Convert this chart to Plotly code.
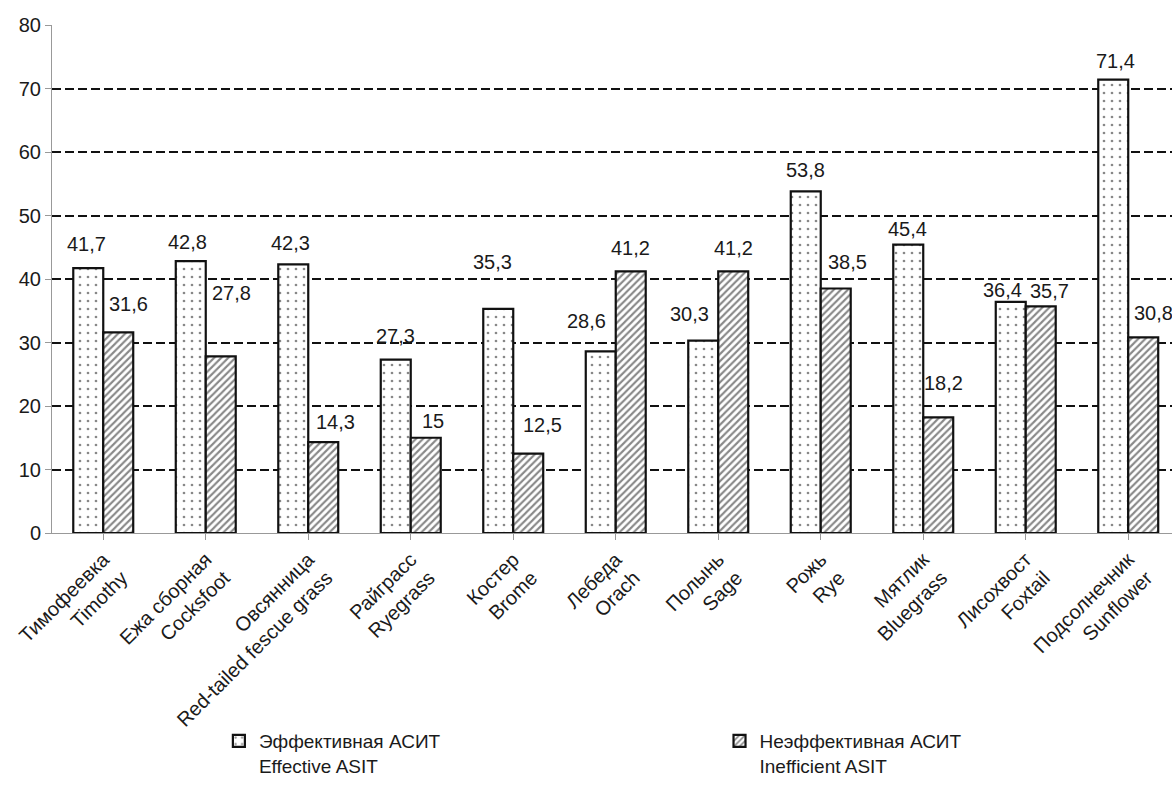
import plotly.graph_objects as go

# Share of patients (%) per allergen, by ASIT outcome
categories = [
    "Тимофеевка<br>Timothy",
    "Ежа сборная<br>Cocksfoot",
    "Овсянница<br>Red-tailed fescue grass",
    "Райграсс<br>Ryegrass",
    "Костер<br>Brome",
    "Лебеда<br>Orach",
    "Полынь<br>Sage",
    "Рожь<br>Rye",
    "Мятлик<br>Bluegrass",
    "Лисохвост<br>Foxtail",
    "Подсолнечник<br>Sunflower",
]
effective = [41.7, 42.8, 42.3, 27.3, 35.3, 28.6, 30.3, 53.8, 45.4, 36.4, 71.4]
inefficient = [31.6, 27.8, 14.3, 15.0, 12.5, 41.2, 41.2, 38.5, 18.2, 35.7, 30.8]
y_ticks = [0, 10, 20, 30, 40, 50, 60, 70, 80]

series_names = ["Эффективная АСИТ<br>Effective ASIT", "Неэффективная АСИТ<br>Inefficient ASIT"]

FONT = "Liberation Sans Narrow, Arial Narrow, Liberation Sans, Arial, sans-serif"
TEXT = "#1a1a1a"
INK = "#111111"

# label placement tweaks (pixels): shift right, shift up from bar top
eff_label_dx = [-2, -3, -3, 0, -6, -14, -14, 0, -1, -8, 2]
eff_label_dy = [24, 19, 21, 24, 47, 30, 27, 21, 16, 12, 19]
ineff_label_dx = [10, 11, 12, 7, 14, 0, 0, 12, 5, 9, 10]
ineff_label_dy = [28, 63, 20, 17, 29, 23, 23, 27, 34, 15, 24]


def fmt(v):
    s = ("%.1f" % v).rstrip("0").rstrip(".")
    return s.replace(".", ",")


x_idx = list(range(len(categories)))

fig = go.Figure()
fig.add_trace(go.Bar(
    x=x_idx, y=effective, name=series_names[0], legend="legend",
    marker=dict(color="white", line=dict(color=INK, width=2.2),
                pattern=dict(shape=".", fgcolor=INK, bgcolor="white",
                             size=8, solidity=0.09)),
))
fig.add_trace(go.Bar(
    x=x_idx, y=inefficient, name=series_names[1], legend="legend2",
    marker=dict(color="white", line=dict(color=INK, width=2.2),
                pattern=dict(shape="/", fgcolor=INK, bgcolor="white",
                             size=5, solidity=0.42)),
))

annotations = []
half_bar = 15
for i in x_idx:
    annotations.append(dict(
        x=i, y=effective[i], xref="x", yref="y", text=fmt(effective[i]),
        showarrow=False, xshift=-half_bar + eff_label_dx[i], yshift=eff_label_dy[i],
        xanchor="center", yanchor="middle",
        font=dict(family=FONT, size=20, color=TEXT),
    ))
    annotations.append(dict(
        x=i, y=inefficient[i], xref="x", yref="y", text=fmt(inefficient[i]),
        showarrow=False, xshift=half_bar + ineff_label_dx[i], yshift=ineff_label_dy[i],
        xanchor="center", yanchor="middle",
        font=dict(family=FONT, size=20, color=TEXT),
    ))

legend_style = dict(
    orientation="h", yanchor="top", xanchor="left", y=-0.372,
    font=dict(family=FONT, size=19, color=TEXT),
    bgcolor="rgba(0,0,0,0)", itemwidth=30, valign="top",
)

fig.update_layout(
    width=1172, height=785,
    margin=dict(l=52, r=0, t=25, b=248),
    paper_bgcolor="white", plot_bgcolor="white",
    barmode="group", bargap=0.415, bargroupgap=0,
    font=dict(family=FONT, size=20, color=TEXT),
    annotations=annotations,
    showlegend=True,
    legend=dict(legend_style, x=0.149),
    legend2=dict(legend_style, x=0.596),
)

fig.update_xaxes(
    tickmode="array", tickvals=x_idx, ticktext=categories,
    range=[-0.5, 10.427], tickangle=-45,
    showline=True, linecolor="#999999", linewidth=1,
    ticks="outside", tickson="boundaries", ticklen=6, tickcolor="#999999",
    showgrid=False, zeroline=False, ticklabelstandoff=0,
    tickfont=dict(family=FONT, size=20, color=TEXT),
)
fig.update_yaxes(
    range=[0, 80], tickmode="array", tickvals=y_ticks,
    showline=True, linecolor="#999999", linewidth=1,
    ticks="outside", ticklen=6, tickcolor="#999999",
    showgrid=True, gridcolor=INK, gridwidth=2, griddash="9px,4px",
    zeroline=True, zerolinecolor="#999999", zerolinewidth=1,
    tickfont=dict(family=FONT, size=20, color=TEXT),
)

fig.write_html("out.html")
